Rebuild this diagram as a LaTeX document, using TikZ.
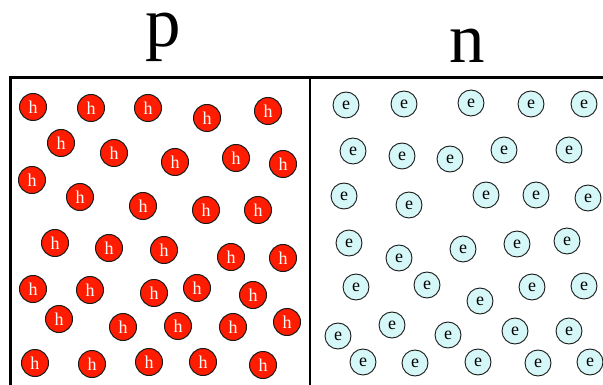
\documentclass[tikz,border=0pt]{standalone}
\usepackage{fontspec}
\setmainfont{Liberation Serif}
\usepackage{tikz}
\definecolor{pn-red}{RGB}{255, 28, 0}
\definecolor{pn-cyan}{RGB}{214, 247, 247}
\definecolor{pn-edge}{RGB}{25, 25, 25}

\begin{document}
\begin{tikzpicture}[x=1pt, y=-1pt,
    hole/.style={circle, fill=pn-red, draw=pn-edge, line width=1pt, minimum size=27pt, inner sep=0pt, text=white, font=\fontsize{18}{18}\selectfont},
    elec/.style={circle, fill=pn-cyan, draw=pn-edge, line width=0.9pt, minimum size=26pt, inner sep=0pt, font=\fontsize{18}{18}\selectfont},
    side/.style={anchor=base, inner sep=0pt, text height=0.48em, text depth=0.22em, font=\fontsize{71}{71}\selectfont}]
    \clip (0,0) rectangle (603,385);

    % side labels
    \node[side] (plabel) at (163,47) {p};
    \node[side] (nlabel) at (467,63) {n};

    % junction box
    \draw[line width=3pt] (10,78) rectangle (640,420);
    \draw[line width=2.5pt] (310,78) -- (310,420);

    % holes (p side)
    \foreach \x/\y [count=\i] in {33/107, 91/108, 148/108, 207/118, 268/111,
        61/143, 114/153, 175/162, 236/158, 283/164,
        32/180, 80/197, 143/206, 206/210, 258/210,
        55/243, 109/248, 164/250, 231/257, 283/258,
        33/289, 90/290, 154/293, 197/288, 253/295,
        59/319, 123/327, 178/326, 233/327, 287/322,
        35/363, 92/364, 149/362, 203/362, 263/365}
        \node[hole] (h\i) at (\x,\y) {h};

    % electrons (n side)
    \foreach \x/\y [count=\i] in {346/105, 404/104, 471/103, 531/104, 584/104,
        353/151, 402/156, 450/159, 504/150, 569/150,
        344/196, 409/205, 486/195, 536/195, 588/198,
        349/243, 399/258, 463/249, 517/244, 567/241,
        356/287, 427/285, 480/301, 532/287, 584/286,
        338/336, 392/325, 448/335, 515/331, 569/331,
        363/362, 415/363, 478/362, 538/363, 590/362}
        \node[elec] (e\i) at (\x,\y) {e};
\end{tikzpicture}
\end{document}
